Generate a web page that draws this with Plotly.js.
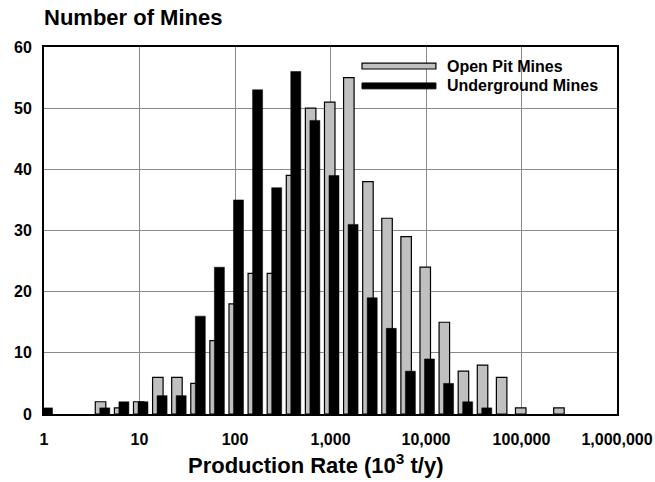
<!DOCTYPE html>
<html>
<head>
<meta charset="utf-8">
<script src="https://cdn.plot.ly/plotly-3.0.1.min.js"></script>
<style>
  html, body { margin: 0; padding: 0; background: #fff; }
  #chart { width: 655px; height: 482px; }
</style>
</head>
<body>
<div id="chart"></div>
<script>
// Bin centres, as powers of ten of production rate (10^3 t/y), five bins per decade
const binExponent = [0.0, 0.2, 0.4, 0.6, 0.8, 1.0, 1.2, 1.4, 1.6, 1.8,
                     2.0, 2.2, 2.4, 2.6, 2.8, 3.0, 3.2, 3.4, 3.6, 3.8,
                     4.0, 4.2, 4.4, 4.6, 4.8, 5.0, 5.2, 5.4];
const openPitMines = [0, 0, 0, 2, 1, 2, 6, 6, 5, 12,
                      18, 23, 23, 39, 50, 51, 55, 38, 32, 29,
                      24, 15, 7, 8, 6, 1, 0, 1];
const undergroundMines = [1, 0, 0, 1, 2, 2, 3, 3, 16, 24,
                          35, 53, 37, 56, 48, 39, 31, 19, 14, 7,
                          9, 5, 2, 1, 0, 0, 0, 0];
const xTickExponents = [0, 1, 2, 3, 4, 5, 6];
const xTickLabels = ["1", "10", "100", "1,000", "10,000", "100,000", "1,000,000"];
const yTickValues = [0, 10, 20, 30, 40, 50, 60];
const seriesNames = ["Open Pit Mines", "Underground Mines"];

const FONT = "Liberation Sans, Arial, Helvetica, sans-serif";
// empty bins draw nothing
const blankZero = arr => arr.map(v => (v === 0 ? null : v));

const traces = [
  {
    type: "bar", name: seriesNames[0],
    x: binExponent, y: blankZero(openPitMines),
    width: 0.11, offset: -0.063,
    marker: { color: "#c0c0c0", line: { color: "#000", width: 1.2 } },
    hoverinfo: "skip"
  },
  {
    type: "bar", name: seriesNames[1],
    x: binExponent, y: blankZero(undergroundMines),
    width: 0.105, offset: -0.016,
    marker: { color: "#000", line: { color: "#000", width: 0.5 } },
    hoverinfo: "skip"
  }
];

const layout = {
  width: 655, height: 482,
  margin: { l: 44, r: 38, t: 47, b: 68 },
  paper_bgcolor: "#fff", plot_bgcolor: "#fff",
  showlegend: false,
  barmode: "overlay",
  font: { family: FONT, color: "#000" },
  title: {
    text: "Number of Mines",
    font: { family: FONT, size: 22, weight: 700, color: "#000" },
    xref: "paper", x: 0, xanchor: "left",
    yref: "container", y: 0.964, yanchor: "middle"
  },
  xaxis: {
    type: "linear", range: [0, 6],
    tickmode: "array", tickvals: xTickExponents, ticktext: xTickLabels,
    tickfont: { family: FONT, size: 16, weight: 700, color: "#000" },
    ticks: "", ticklabelstandoff: 10,
    showgrid: true, gridcolor: "#8a8a8a", gridwidth: 1,
    zeroline: false,
    showline: true, linecolor: "#000", linewidth: 2, mirror: true
  },
  yaxis: {
    range: [0, 60],
    tickmode: "array", tickvals: yTickValues,
    tickfont: { family: FONT, size: 16, weight: 700, color: "#000" },
    ticks: "", ticklabelstandoff: 7,
    showgrid: true, gridcolor: "#8a8a8a", gridwidth: 1,
    zeroline: false,
    showline: true, linecolor: "#000", linewidth: 2, mirror: true
  },
  shapes: [
    { type: "rect", xref: "paper", yref: "paper", x0: 0.555, x1: 0.684, y0: 0.940, y1: 0.956,
      fillcolor: "#c0c0c0", line: { color: "#000", width: 1.2 } },
    { type: "rect", xref: "paper", yref: "paper", x0: 0.555, x1: 0.684, y0: 0.886, y1: 0.902,
      fillcolor: "#000", line: { color: "#000", width: 1 } }
  ],
  annotations: [
    { xref: "paper", yref: "paper", x: 0.700, y: 0.948, xanchor: "left", yanchor: "middle",
      text: seriesNames[0], showarrow: false,
      font: { family: FONT, size: 16, weight: 700, color: "#000" } },
    { xref: "paper", yref: "paper", x: 0.700, y: 0.894, xanchor: "left", yanchor: "middle",
      text: seriesNames[1], showarrow: false,
      font: { family: FONT, size: 16, weight: 700, color: "#000" } },
    { xref: "paper", yref: "paper", x: 0.475, y: (414 - 464) / 367, xanchor: "center", yanchor: "middle",
      text: "Production Rate (10<sup>3</sup> t/y)", showarrow: false,
      font: { family: FONT, size: 22, weight: 700, color: "#000" } }
  ]
};

Plotly.newPlot("chart", traces, layout, { displayModeBar: false, staticPlot: true });
</script>
</body>
</html>
